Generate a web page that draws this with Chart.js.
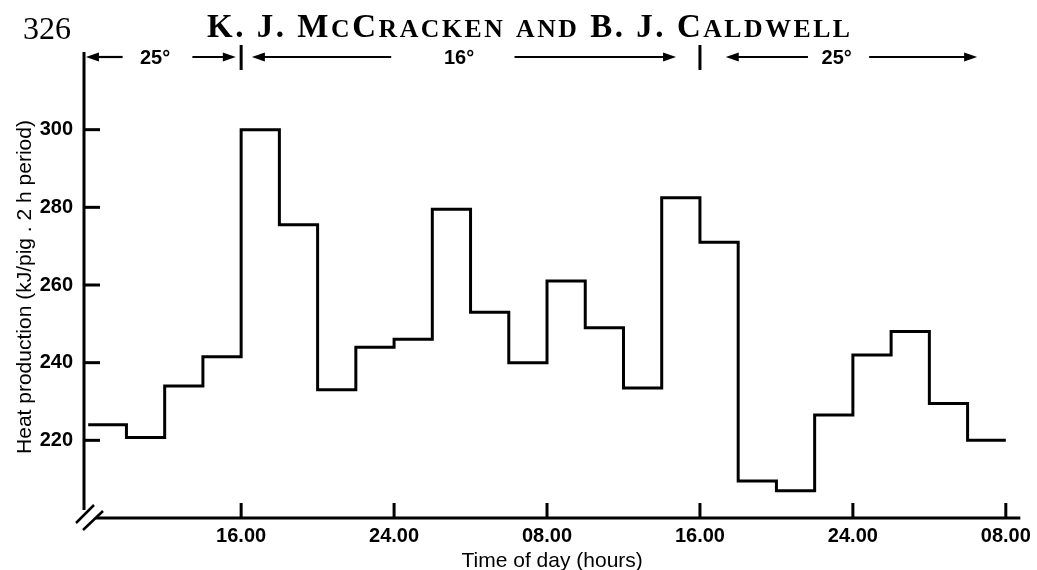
<!DOCTYPE html>
<html>
<head>
<meta charset="utf-8">
<script src="https://cdn.jsdelivr.net/npm/chart.js@4.4.1/dist/chart.umd.min.js"></script>
<style>
  html, body { margin: 0; padding: 0; background: #ffffff; }
  #wrap { position: relative; width: 1037px; height: 570px; }
</style>
</head>
<body>
<div id="wrap"><canvas id="c" width="1037" height="570"></canvas></div>
<script>
// ---- Data ----
const pageNumber = '326';
const runningHead = 'K. J. McCracken and B. J. Caldwell';
// Start of each 2 h period, in hours from midnight of day 1 (8 = 08.00 day 1)
const periodStartHours = [8, 10, 12, 14, 16, 18, 20, 22, 24, 26, 28, 30,
                          32, 34, 36, 38, 40, 42, 44, 46, 48, 50, 52, 54];
const periodEndHour = 56;
// Heat production, kJ/pig per 2 h period
const heatProduction = [224, 220.7, 234, 241.5, 300, 275.5, 233, 244, 246, 279.5, 253, 240,
                        261, 249, 233.5, 282.5, 271, 209.5, 207, 226.5, 242, 248, 229.5, 220];
const xTickHours = [16, 24, 32, 40, 48, 56];
const xTickLabels = ['16.00', '24.00', '08.00', '16.00', '24.00', '08.00'];
const yTickValues = [220, 240, 260, 280, 300];
const tempLabels = ['25°', '16°', '25°'];
const tempChangeHours = [16, 40];
const yAxisTitle = 'Heat production (kJ/pig . 2 h period)';
const xAxisTitle = 'Time of day (hours)';

// ---- Build dataset ----
const points = periodStartHours.map((h, i) => ({ x: h, y: heatProduction[i] }));
points.push({ x: periodEndHour, y: heatProduction[heatProduction.length - 1] });

// ---- Style / layout constants ----
const SANS = '"Liberation Sans", Arial, Helvetica, sans-serif';
const SERIF = '"Liberation Serif", "Times New Roman", serif';
// arrow layout for temperature bands, in axis hours: [leftTip, leftTail, textCenter, rightTail, rightTip]
const tempArrowLayout = [
  [7.88, 9.8, 11.5, 13.45, 15.72],
  [16.56, 23.85, 27.4, 30.3, 38.75],
  [41.35, 45.65, 47.15, 48.85, 54.5]
];

function arrow(ctx, tail, tip, y) {
  const dir = Math.sign(tip - tail);
  const headLen = 13, headHalf = 4.5;
  ctx.beginPath();
  ctx.moveTo(tail, y);
  ctx.lineTo(tip - dir * headLen * 0.6, y);
  ctx.lineWidth = 2.2;
  ctx.stroke();
  ctx.beginPath();
  ctx.moveTo(tip, y);
  ctx.lineTo(tip - dir * headLen, y - headHalf);
  ctx.lineTo(tip - dir * headLen, y + headHalf);
  ctx.closePath();
  ctx.fill();
}

function smallCaps(ctx, text, size, scScale, weight, family) {
  const parts = [];
  for (const ch of text) {
    const lower = ch !== ch.toUpperCase();
    const s = lower ? size * scScale : size;
    ctx.font = `${weight} ${s}px ${family}`;
    const c = ch.toUpperCase();
    parts.push({ c, font: ctx.font, w: ctx.measureText(c).width });
  }
  return parts;
}

const decorPlugin = {
  id: 'decor',
  afterDatasetsDraw(chart) {
    const { ctx, chartArea: a, scales: { x, y } } = chart;
    ctx.save();
    ctx.strokeStyle = '#000';
    ctx.fillStyle = '#000';
    ctx.lineCap = 'butt';

    // axes
    ctx.lineWidth = 3;
    ctx.beginPath();
    ctx.moveTo(a.left, a.top);
    ctx.lineTo(a.left, a.bottom - 8);
    ctx.stroke();
    ctx.beginPath();
    ctx.moveTo(a.left + 12, a.bottom);
    ctx.lineTo(a.right, a.bottom);
    ctx.stroke();

    // axis break marks
    ctx.lineWidth = 2.5;
    ctx.beginPath();
    ctx.moveTo(a.left - 8, a.bottom + 5);
    ctx.lineTo(a.left + 10, a.bottom - 13);
    ctx.moveTo(a.left - 1, a.bottom + 12);
    ctx.lineTo(a.left + 19, a.bottom - 7);
    ctx.stroke();

    // inward tick marks
    ctx.lineWidth = 3;
    yTickValues.forEach(v => {
      const py = y.getPixelForValue(v);
      ctx.beginPath();
      ctx.moveTo(a.left, py);
      ctx.lineTo(a.left + 16, py);
      ctx.stroke();
    });
    xTickHours.forEach(h => {
      const px = x.getPixelForValue(h);
      ctx.beginPath();
      ctx.moveTo(px, a.bottom);
      ctx.lineTo(px, a.bottom - 15);
      ctx.stroke();
    });

    // temperature bands
    const ay = 57;
    ctx.lineWidth = 3;
    tempChangeHours.forEach(h => {
      const px = x.getPixelForValue(h);
      ctx.beginPath();
      ctx.moveTo(px, 45);
      ctx.lineTo(px, 70);
      ctx.stroke();
    });
    ctx.font = `bold 20px ${SANS}`;
    ctx.textAlign = 'center';
    ctx.textBaseline = 'middle';
    tempLabels.forEach((t, i) => {
      const L = tempArrowLayout[i].map(h => x.getPixelForValue(h));
      arrow(ctx, L[1], L[0], ay);
      arrow(ctx, L[3], L[4], ay);
      ctx.fillText(t, L[2], ay + 1);
    });

    // axis titles
    const cxArea = (a.left + a.right) / 2;
    const cyArea = (a.top + a.bottom) / 2;
    ctx.font = `21px ${SANS}`;
    ctx.textAlign = 'center';
    ctx.textBaseline = 'middle';
    ctx.fillText(xAxisTitle, cxArea, 561);
    ctx.save();
    ctx.translate(25, cyArea + 2);
    ctx.rotate(-Math.PI / 2);
    ctx.fillText(yAxisTitle, 0, 0);
    ctx.restore();

    // running head
    ctx.textAlign = 'left';
    ctx.textBaseline = 'alphabetic';
    ctx.font = `32px ${SERIF}`;
    ctx.fillText(pageNumber, 23, 39);
    const parts = smallCaps(ctx, runningHead, 33, 0.78, 'bold', SERIF);
    const natural = parts.reduce((s, p) => s + p.w, 0);
    const spacing = (643 - natural) / (parts.length - 1);
    let cx = 207;
    parts.forEach(p => {
      ctx.font = p.font;
      ctx.fillText(p.c, cx, 37);
      cx += p.w + spacing;
    });
    ctx.restore();
  }
};

new Chart(document.getElementById('c'), {
  type: 'line',
  data: {
    datasets: [{
      data: points,
      stepped: true,
      borderColor: '#000',
      borderWidth: 3,
      pointRadius: 0,
      fill: false,
      tension: 0
    }]
  },
  options: {
    responsive: false,
    animation: false,
    layout: { padding: { top: 52, right: 10, bottom: 0, left: 0 } },
    plugins: { legend: { display: false }, tooltip: { enabled: false } },
    scales: {
      x: {
        type: 'linear',
        min: 7.78,
        max: 56.76,
        afterBuildTicks: s => { s.ticks = xTickHours.map(v => ({ value: v })); },
        afterFit: s => { s.height = 52; },
        grid: { display: false, drawTicks: false },
        border: { display: false },
        ticks: {
          autoSkip: false,
          maxRotation: 0,
          padding: 6,
          color: '#000',
          font: { family: SANS, size: 20, weight: 'bold' },
          callback: v => xTickLabels[xTickHours.indexOf(v)]
        }
      },
      y: {
        min: 200,
        max: 320,
        afterBuildTicks: s => { s.ticks = yTickValues.map(v => ({ value: v })); },
        afterFit: s => { s.width = 84; },
        grid: { display: false, drawTicks: false },
        border: { display: false },
        ticks: {
          padding: 11,
          color: '#000',
          font: { family: SANS, size: 20, weight: 'bold' }
        }
      }
    }
  },
  plugins: [decorPlugin]
});
</script>
</body>
</html>
